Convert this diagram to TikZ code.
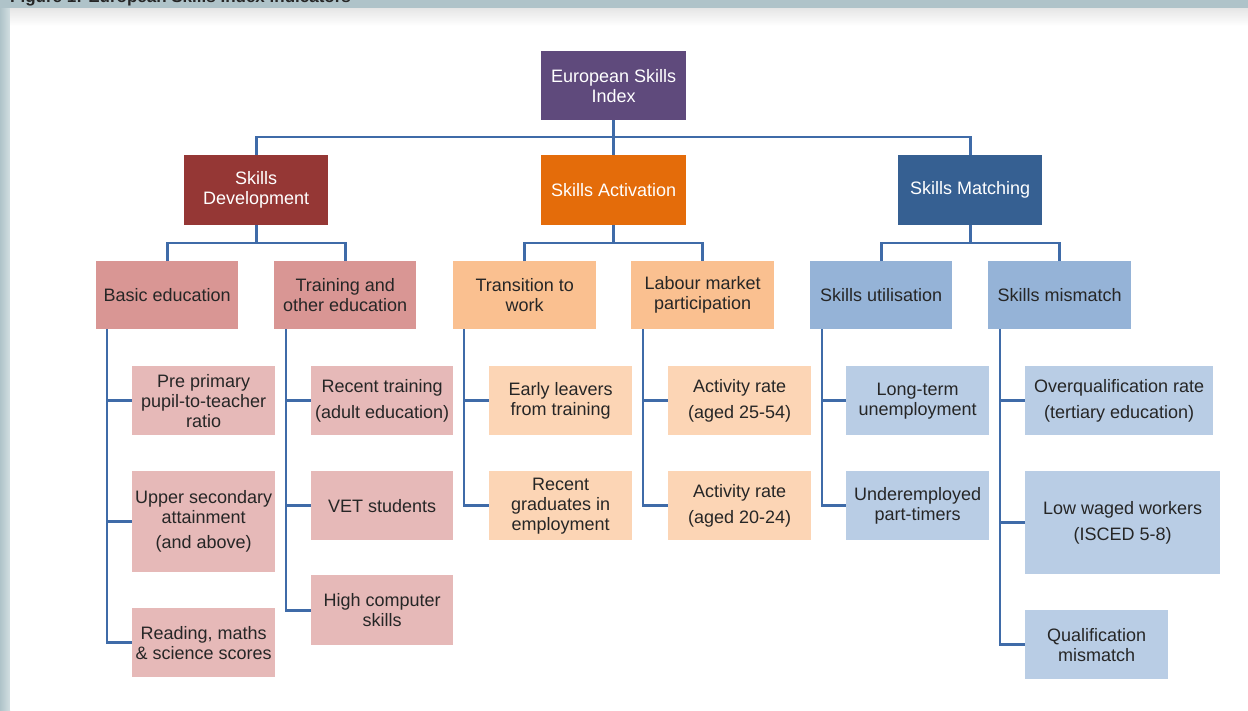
\documentclass[tikz,border=0pt]{standalone}
\usepackage{fontspec}
\setmainfont{Liberation Sans}
\definecolor{bgblue}{HTML}{AFC3C9}
\definecolor{bgleft}{HTML}{D3DFE2}
\definecolor{cpurple}{HTML}{5F4A7C}
\definecolor{cred}{HTML}{953735}
\definecolor{corange}{HTML}{E46C0A}
\definecolor{cblue}{HTML}{366092}
\definecolor{pinkA}{HTML}{D99694}
\definecolor{orangeA}{HTML}{FAC090}
\definecolor{blueA}{HTML}{95B3D7}
\definecolor{pinkB}{HTML}{E6B9B8}
\definecolor{orangeB}{HTML}{FCD5B5}
\definecolor{blueB}{HTML}{B9CDE5}
\definecolor{conncol}{HTML}{3F6BA8}
\definecolor{txt}{HTML}{262626}
\tikzset{
  box/.style={anchor=north west, inner sep=0pt, align=center,
    font=\fontsize{18}{20}\selectfont, text=txt},
  topbox/.style={box, text=white},
  conn/.style={draw=conncol, line width=2.8pt}
}
\begin{document}
\begin{tikzpicture}[x=1pt,y=-1pt]
\useasboundingbox (0,0) rectangle (1248,710);
% background
\fill[bgblue] (0,0) rectangle (1248,710);
\fill[left color=bgblue, right color=bgleft] (0,8) rectangle (10,710);
\fill[white] (10,8) rectangle (1248,710);
\shade[top color=black!10, bottom color=white] (10,8) rectangle (1248,26);
\begin{scope}
\clip (0,0) rectangle (1248,8);
\node[anchor=base west, inner sep=0pt, font=\fontsize{17}{20}\selectfont\bfseries, text=black!85] (title) at (10,2) {Figure 1: European Skills Index indicators};
\end{scope}
% level 0
\node[topbox, fill=cpurple, minimum width=145, minimum height=69] (esi) at (541,51) {European Skills\\Index};
% level 1
\node[topbox, fill=cred, minimum width=144, minimum height=70] (sd) at (184,155) {Skills\\Development};
\node[topbox, fill=corange, minimum width=145, minimum height=70] (sa) at (541,155) {Skills Activation};
\node[topbox, fill=cblue, minimum width=144, minimum height=70] (sm) at (898,155) {Skills Matching};
% level 2
\node[box, fill=pinkA, minimum width=142, minimum height=68] (be) at (96,261) {Basic education};
\node[box, fill=pinkA, minimum width=142, minimum height=68] (tr) at (274,261) {Training and\\other education};
\node[box, fill=orangeA, minimum width=143, minimum height=68] (tw) at (453,261) {Transition to\\work};
\node[box, fill=orangeA, minimum width=143, minimum height=68] (lm) at (631,261) {Labour market\\participation};
\node[box, fill=blueA, minimum width=142, minimum height=68] (su) at (810,261) {Skills utilisation};
\node[box, fill=blueA, minimum width=143, minimum height=68] (sx) at (988,261) {Skills mismatch};
% level 3 - basic education
\node[box, fill=pinkB, minimum width=143, minimum height=69] (pp) at (132,366) {Pre primary\\pupil-to-teacher\\ratio};
\node[box, fill=pinkB, minimum width=143, minimum height=101] (us) at (132,471) {Upper secondary\\attainment\\[5pt](and above)};
\node[box, fill=pinkB, minimum width=143, minimum height=69] (rm) at (132,608) {Reading, maths\\\& science scores};
% training
\node[box, fill=pinkB, minimum width=142, minimum height=69] (rt) at (311,366) {Recent training\\[6pt](adult education)};
\node[box, fill=pinkB, minimum width=142, minimum height=69] (vet) at (311,471) {VET students};
\node[box, fill=pinkB, minimum width=142, minimum height=70] (hc) at (311,575) {High computer\\skills};
% transition
\node[box, fill=orangeB, minimum width=143, minimum height=69] (el) at (489,366) {Early leavers\\from training};
\node[box, fill=orangeB, minimum width=143, minimum height=69] (rg) at (489,471) {Recent\\graduates in\\employment};
% labour market
\node[box, fill=orangeB, minimum width=143, minimum height=69] (ar1) at (668,366) {Activity rate\\[6pt](aged 25-54)};
\node[box, fill=orangeB, minimum width=143, minimum height=69] (ar2) at (668,471) {Activity rate\\[6pt](aged 20-24)};
% skills utilisation
\node[box, fill=blueB, minimum width=143, minimum height=69] (lt) at (846,366) {Long-term\\unemployment};
\node[box, fill=blueB, minimum width=143, minimum height=69] (up) at (846,471) {Underemployed\\part-timers};
% skills mismatch
\node[box, fill=blueB, minimum width=188, minimum height=69] (oq) at (1025,366) {Overqualification rate\\[6pt](tertiary education)};
\node[box, fill=blueB, minimum width=195, minimum height=103] (lw) at (1025,471) {Low waged workers\\[6pt](ISCED 5-8)};
\node[box, fill=blueB, minimum width=143, minimum height=69] (qm) at (1025,610) {Qualification\\mismatch};
% junctions
\coordinate (j0) at (613,137);
\coordinate (j1) at (0,243);
% connectors level 0 -> 1
\draw[conn] (esi.south) -- (sa.north);
\draw[conn] (sd.north) |- (sm.north |- j0) -- (sm.north);
% level 1 -> 2
\draw[conn] (sd.south) -- (sd.south |- j1);
\draw[conn] (be.north) |- (tr.north |- j1) -- (tr.north);
\draw[conn] (sa.south) -- (sa.south |- j1);
\draw[conn] (tw.north) |- (lm.north |- j1) -- (lm.north);
\draw[conn] (sm.south) -- (sm.south |- j1);
\draw[conn] (su.north) |- (sx.north |- j1) -- (sx.north);
% level 2 -> 3
\draw[conn] ([xshift=11]be.south west) |- (pp.west);
\draw[conn] ([xshift=11]be.south west) |- (us.west);
\draw[conn] ([xshift=11]be.south west) |- (rm.west);
\draw[conn] ([xshift=12]tr.south west) |- (rt.west);
\draw[conn] ([xshift=12]tr.south west) |- (vet.west);
\draw[conn] ([xshift=12]tr.south west) |- (hc.west);
\draw[conn] ([xshift=11]tw.south west) |- (el.west);
\draw[conn] ([xshift=11]tw.south west) |- (rg.west);
\draw[conn] ([xshift=12]lm.south west) |- (ar1.west);
\draw[conn] ([xshift=12]lm.south west) |- (ar2.west);
\draw[conn] ([xshift=12]su.south west) |- (lt.west);
\draw[conn] ([xshift=12]su.south west) |- (up.west);
\draw[conn] ([xshift=12]sx.south west) |- (oq.west);
\draw[conn] ([xshift=12]sx.south west) |- (lw.west);
\draw[conn] ([xshift=12]sx.south west) |- (qm.west);
\end{tikzpicture}
\end{document}
